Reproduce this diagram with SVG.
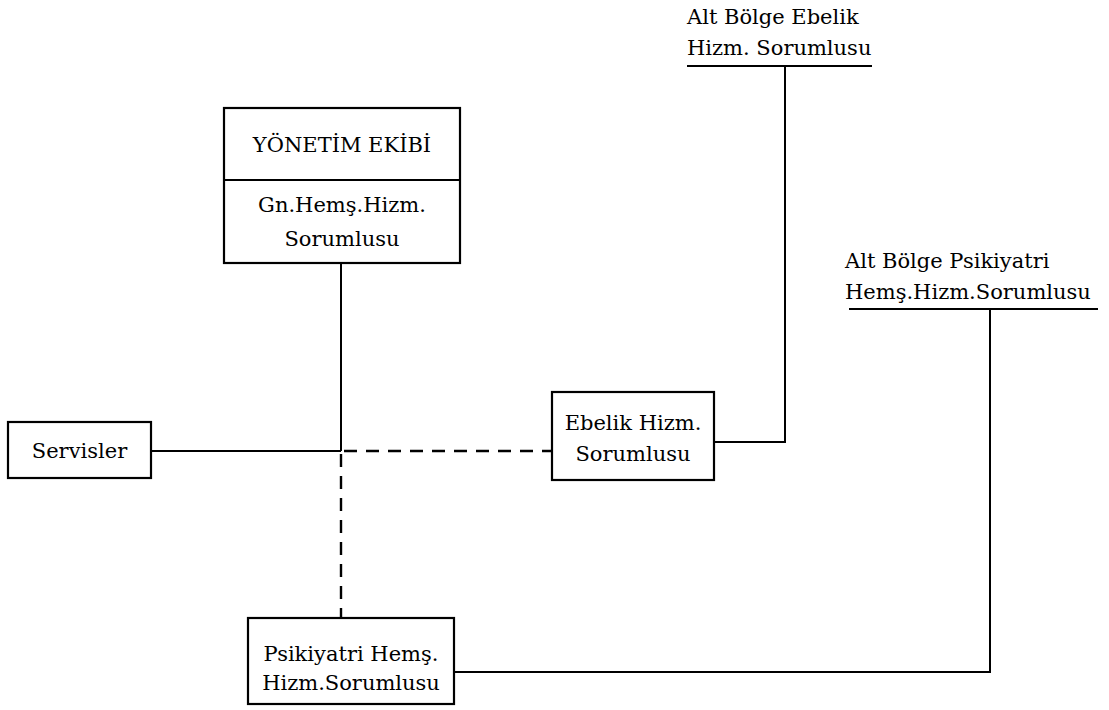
<svg xmlns="http://www.w3.org/2000/svg" width="1109" height="710" viewBox="0 0 1109 710">
  <style>
    .box { fill: #ffffff; stroke: #000000; stroke-width: 2.2; }
    .line { fill: none; stroke: #000000; stroke-width: 2; }
    .dash { fill: none; stroke: #000000; stroke-width: 2.4; stroke-dasharray: 13 9; }
    .c { text-anchor: middle; }
  </style>
  <rect width="1109" height="710" fill="#ffffff"/>

  <!-- connectors -->
  <g id="connectors">
    <line class="line" x1="341" y1="263" x2="341" y2="451"/>
    <line class="line" x1="151" y1="451" x2="341" y2="451"/>
    <line class="dash" x1="344" y1="451" x2="552" y2="451"/>
    <line class="dash" x1="341" y1="454" x2="341" y2="618"/>
    <polyline class="line" points="714,442 785,442 785,66"/>
    <polyline class="line" points="454,672 990,672 990,309"/>
  </g>

  <g font-family="'DejaVu Serif', serif" font-size="21" fill="#000000">
    <g id="yonetim">
      <rect class="box" x="224" y="108" width="236" height="155"/>
      <line class="line" x1="224" y1="180" x2="460" y2="180"/>
      <text class="c" x="342" y="152">YÖNETİM EKİBİ</text>
      <text class="c" x="342" y="212">Gn.Hemş.Hizm.</text>
      <text class="c" x="342" y="246">Sorumlusu</text>
    </g>

    <g id="servisler">
      <rect class="box" x="8" y="422" width="143" height="56"/>
      <text class="c" x="79.5" y="458">Servisler</text>
    </g>

    <g id="ebelik">
      <rect class="box" x="552" y="392" width="162" height="88"/>
      <text class="c" x="633" y="430">Ebelik Hizm.</text>
      <text class="c" x="633" y="461">Sorumlusu</text>
    </g>

    <g id="psikiyatri">
      <rect class="box" x="248" y="618" width="206" height="86"/>
      <text class="c" x="351" y="661">Psikiyatri Hemş.</text>
      <text class="c" x="351" y="690">Hizm.Sorumlusu</text>
    </g>

    <g id="alt-ebelik">
      <line class="line" x1="687" y1="66" x2="872" y2="66"/>
      <text x="687" y="24">Alt Bölge Ebelik</text>
      <text x="687" y="55">Hizm. Sorumlusu</text>
    </g>

    <g id="alt-psikiyatri">
      <line class="line" x1="849" y1="309" x2="1098" y2="309"/>
      <text x="845" y="268">Alt Bölge Psikiyatri</text>
      <text x="845" y="299">Hemş.Hizm.Sorumlusu</text>
    </g>
  </g>
</svg>
